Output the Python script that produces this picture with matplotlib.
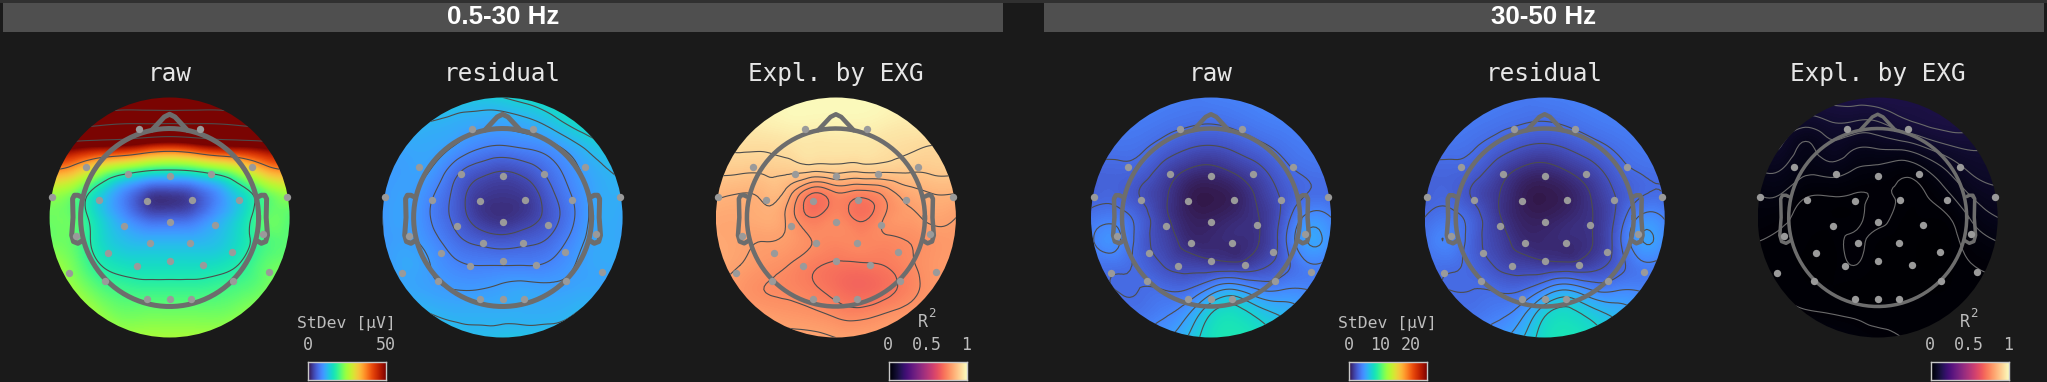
import numpy as np
import matplotlib
matplotlib.use('Agg')
from matplotlib import pyplot as plt
from matplotlib import tri as mtri
from matplotlib.patches import Circle, Rectangle

BG = '#1a1a1a'
HEAD = '#6d6d6d'
DOT = '#9a9a9a'
TXT = '#e6e6e6'
LBL = '#bdbdbd'
MONO = 'DejaVu Sans Mono'

# sensor montage, head radius = 1
sensor_x = [-.346, .346, -.936, .926, -.463, 0, .468, -1.32, 1.32, -.79, -.253, .253, .784,
            -.507, 0, .512, -1.052, 1.052, -.224, .234, -.692, .697, -.37, 0, .38,
            -1.126, 1.121, -.721, .716, -.253, 0, .239]
sensor_y = [.996, .996, .562, .569, .487, .464, .494, .232, .225, .195, .191, .195, .202,
            -.09, -.056, -.082, -.206, -.187, -.292, -.288, -.397, -.39, -.547, -.494, -.539,
            -.622, -.614, -.719, -.719, -.918, -.918, -.918]

# field, rows top to bottom, on an 11x11 lattice
grid_nodes = [-1.35, -1.08, -.81, -.54, -.27, 0, .27, .54, .81, 1.08, 1.35]

low_raw = [
    [120, 120, 118, 116, 115, 115, 115, 116, 118, 120, 120],
    [85, 85, 83, 80, 80, 80, 80, 80, 83, 85, 85],
    [55, 52, 50, 49, 46, 44, 46, 49, 50, 52, 55],
    [37, 34, 27, 22, 19, 18, 19, 22, 27, 34, 37],
    [25, 22, 15, 9, 4, 3, 4.5, 9, 15, 21, 25],
    [22, 21, 15, 10, 6, 5.5, 6.5, 10.5, 15, 21, 21],
    [22, 21, 16, 13, 12, 12, 12, 13, 16, 20, 21],
    [25, 22, 18, 16, 15.5, 15.5, 15.5, 16, 18, 21, 22],
    [27, 24, 21, 19.5, 19, 19, 19, 19.5, 20.5, 22, 25],
    [30, 27, 24, 22, 22, 22, 22, 22, 23, 25, 27],
    [31, 29, 27, 25, 25, 25, 25, 25, 26, 27, 30]]

low_resid = [
    [15, 15, 15, 14, 13.5, 14, 15, 16, 16.5, 16.5, 16.5],
    [12.5, 12.5, 12, 11.5, 11, 10.8, 11.5, 13, 15, 16, 16.5],
    [11, 11, 11, 10, 8.5, 8, 8.5, 9.5, 11.5, 13.5, 15],
    [10, 10.5, 10, 7, 5, 4.2, 5, 7, 9.5, 11.5, 12.5],
    [10, 10.5, 8.5, 5.5, 3, 2.5, 3, 5.5, 8.5, 11, 11.5],
    [10, 10.5, 8, 5.5, 3, 2.2, 3, 5, 8, 11, 11],
    [10, 10.5, 9, 6.8, 5.5, 5, 5.5, 6.5, 9, 11, 11],
    [10, 11, 10, 8.5, 8, 8, 8, 8.5, 10, 11, 11],
    [11, 11, 10.5, 10, 10, 10.5, 10.8, 10.5, 10.8, 11, 11],
    [12.5, 12.5, 12, 11.5, 11.5, 11.5, 11.5, 11.5, 12, 12.5, 13],
    [13.5, 13.5, 13.5, 13, 12.5, 13, 13, 13, 13, 13.5, 13.5]]

low_r2 = [
    [.98, .98, .98, .985, .99, .99, .99, .985, .98, .98, .98],
    [.96, .96, .97, .98, .98, .98, .98, .97, .96, .96, .95],
    [.92, .93, .93, .94, .95, .95, .95, .94, .93, .92, .92],
    [.89, .89, .89, .895, .895, .90, .895, .895, .89, .89, .89],
    [.85, .84, .85, .82, .72, .755, .74, .77, .82, .84, .84],
    [.82, .82, .83, .79, .72, .75, .71, .76, .79, .81, .80],
    [.82, .81, .80, .79, .76, .75, .75, .75, .76, .78, .79],
    [.82, .80, .78, .76, .73, .71, .71, .72, .75, .78, .79],
    [.80, .78, .76, .75, .73, .70, .68, .70, .74, .78, .79],
    [.80, .80, .79, .78, .77, .75, .74, .76, .78, .80, .80],
    [.82, .82, .82, .81, .81, .80, .80, .80, .81, .82, .82]]

high_raw = [
    [4, 4, 4, 4, 3.8, 3.9, 4, 4.2, 4.5, 4.2, 4],
    [3.8, 3.8, 3.8, 3.6, 3.4, 3.3, 3.5, 3.8, 4, 4, 3.8],
    [3.5, 3.5, 3.4, 2.9, 2.4, 2.2, 2.5, 3, 3.5, 3.8, 3.8],
    [3, 3, 2.8, 1.9, 1.2, 1, 1.4, 2, 2.9, 3.4, 3.5],
    [2.8, 2.9, 2.2, 1.4, .5, .3, .6, 1.4, 2.4, 3.2, 3.2],
    [3.6, 3.8, 2.8, 1.5, .6, .5, .8, 1.2, 2.5, 4.5, 4.2],
    [4, 4.5, 2.8, 1.8, .9, .8, .9, 1.2, 2.8, 5.2, 4.6],
    [3.5, 3.5, 3, 2.2, 1.8, 1.6, 1.5, 1.9, 2.8, 4, 3.8],
    [3.5, 3.2, 3.2, 3.2, 3.2, 4.5, 5.2, 4.2, 4.2, 4.2, 3.8],
    [3.8, 3.5, 3.5, 4, 5, 7.2, 7.8, 6.8, 6, 5.5, 5],
    [4.2, 4.2, 4.5, 5, 6.2, 8, 8.5, 8, 7, 6.2, 5.5]]

high_resid = [
    [4, 4, 4, 3.9, 3.7, 3.8, 3.9, 4.1, 4.2, 4.1, 4],
    [3.8, 3.8, 3.7, 3.5, 3.3, 3.2, 3.4, 3.7, 3.9, 3.9, 3.8],
    [3.5, 3.5, 3.3, 2.8, 2.3, 2.1, 2.4, 2.9, 3.4, 3.7, 3.7],
    [3, 3, 2.7, 1.8, 1.1, .9, 1.3, 1.9, 2.8, 3.3, 3.4],
    [2.8, 2.9, 2.1, 1.3, .5, .3, .6, 1.3, 2.3, 3.1, 3.2],
    [3.2, 3.6, 2.7, 1.4, .6, .5, .8, 1.2, 2.4, 4.4, 4.1],
    [3.6, 4.1, 2.7, 1.7, .9, .8, .9, 1.2, 2.7, 5.1, 4.5],
    [3.4, 3.4, 2.9, 2.1, 1.7, 1.5, 1.5, 1.8, 2.7, 3.9, 3.7],
    [3.4, 3.2, 3.2, 3.1, 3.1, 4.3, 5.1, 4.1, 4.1, 4.1, 3.7],
    [3.7, 3.5, 3.5, 3.9, 4.8, 7, 7.6, 6.7, 5.9, 5.4, 4.9],
    [4.1, 4.1, 4.4, 4.9, 6, 7.8, 8.3, 7.8, 6.9, 6.1, 5.4]]

high_r2 = [
    [.10, .11, .115, .12, .12, .125, .125, .12, .12, .11, .10],
    [.08, .09, .08, .09, .09, .09, .105, .115, .12, .115, .10],
    [.07, .07, .047, .065, .055, .055, .06, .075, .09, .095, .09],
    [.05, .05, .034, .04, .03, .025, .018, .03, .055, .075, .08],
    [.03, .03, .015, .014, .012, .013, .01, .012, .03, .055, .065],
    [.02, .015, .009, .008, .009, .015, .008, .008, .012, .035, .05],
    [.012, .01, .008, .007, .014, .008, .006, .003, .007, .02, .03],
    [.01, .008, .007, .006, .012, .006, .006, .003, .007, .012, .015],
    [.012, .01, .008, .008, .006, .007, .007, .007, .008, .01, .012],
    [.02, .018, .014, .012, .01, .009, .009, .009, .01, .012, .015],
    [.04, .04, .035, .03, .02, .015, .012, .012, .012, .015, .02]]

titles = ['raw', 'residual', 'Expl. by EXG', 'raw', 'residual', 'Expl. by EXG']
fields = [low_raw, low_resid, low_r2, high_raw, high_resid, high_r2]
cmaps = ['turbo', 'turbo', 'magma', 'turbo', 'turbo', 'magma']
vmaxes = [50, 50, 1, 25, 25, 1]
contour_levels = [
    [17.5, 36.5, 56.5, 76.5, 96.5, 116.5],
    [4, 6, 8, 10, 12, 14],
    [.72, .76, .80, .84, .88, .92],
    [1.2, 2.2, 3.2, 4.2, 5.2, 6.2, 7.2],
    [1.2, 2.2, 3.2, 4.2, 5.2, 6.2, 7.2],
    [.012, .03, .05, .07, .09, .11, .13]]
contour_colors = ['#4d4d4d', '#4d4d4d', '#4d4d4d', '#4d4d4d', '#4d4d4d', '#6a6a6a']
centers = [169.6, 502.6, 835.9, 1211, 1544.7, 1877.7]
head_px = [5, 5, 4.5, 4.5, 4.5, 3.5]

band_names = ['0.5-30 Hz', '30-50 Hz']

PX = 89.0  # pixels per head radius
W, H = 2047, 382

fig = plt.figure(figsize=(W / 100, H / 100), dpi=100, facecolor=BG)
base = fig.add_axes([0, 0, 1, 1])
base.set_xlim(0, W)
base.set_ylim(H, 0)
base.axis('off')

base.add_patch(Rectangle((0, 0), W, 2.5, color='#303030', lw=0))
for x0, x1, name in [(2.6, 1003, band_names[0]), (1044.3, 2043.6, band_names[1])]:
    base.add_patch(Rectangle((x0, 2.7), x1 - x0, 29, color='#4f4f4f', lw=0))
    base.text((x0 + x1) / 2, 24.5, name, color='white', family='Liberation Sans',
              weight='bold', size=18.6, ha='center', va='baseline')

nodes = np.array(grid_nodes)
gx, gy = np.meshgrid(nodes, nodes[::-1])
triang = mtri.Triangulation(gx.ravel(), gy.ravel())
refiner = mtri.UniformTriRefiner(triang)
pix = np.linspace(-1.35, 1.35, 64)
px, py = np.meshgrid(pix, pix)

nose = ([-.2, -.06, 0, .06, .2], [.98, 1.13, 1.16, 1.13, .98])
ear_x = [1.0, 1.03, 1.07, 1.09, 1.085, 1.1, 1.08, 1.03, .98]
ear_y = [.235, .25, .25, .21, 0, -.2, -.27, -.29, -.26]

for i in range(6):
    cx = centers[i]
    half = 1.42 * PX
    ax = fig.add_axes([(cx - half) / W, 1 - (217.5 + half) / H, 2 * half / W, 2 * half / H])
    ax.set_xlim(-1.42, 1.42)
    ax.set_ylim(-1.42, 1.42)
    ax.axis('off')
    ax.patch.set_alpha(0)

    z = np.array(fields[i], dtype=float).ravel()
    interp = mtri.CubicTriInterpolator(triang, z, kind='min_E')
    im = ax.imshow(interp(px, py), origin='lower', extent=[-1.35, 1.35, -1.35, 1.35],
                   cmap=cmaps[i], vmin=0, vmax=vmaxes[i], interpolation='bilinear')
    clip = Circle((0, 0), 120 / PX, transform=ax.transData)
    im.set_clip_path(clip)

    tri_f, z_f = refiner.refine_field(z, subdiv=3)
    cs = ax.tricontour(tri_f, z_f, levels=contour_levels[i], colors=contour_colors[i], linewidths=0.8)
    cs.set_clip_path(clip)

    lw = head_px[i] * 0.72
    th = np.linspace(0, 2 * np.pi, 200)
    ax.plot(np.cos(th), np.sin(th), color=HEAD, lw=lw)
    ax.plot(nose[0], nose[1], color=HEAD, lw=lw, solid_joinstyle='round', solid_capstyle='round')
    ax.plot(ear_x, ear_y, color=HEAD, lw=lw, solid_joinstyle='round', solid_capstyle='round')
    ax.plot(-np.array(ear_x), ear_y, color=HEAD, lw=lw, solid_joinstyle='round', solid_capstyle='round')
    ax.scatter(sensor_x, sensor_y, s=28, color=DOT, lw=0, zorder=5, clip_on=False)

    base.text(cx, 81, titles[i], color=TXT, family=MONO, size=17.6, ha='center', va='baseline')


def colorbar(x0, x1, cmap, ticks):
    cax = fig.add_axes([x0 / W, 1 - 379.5 / H, (x1 - x0) / W, 17.2 / H])
    cax.imshow(np.linspace(0, 1, 256)[None, :], aspect='auto', cmap=cmap)
    cax.set_xticks([])
    cax.set_yticks([])
    for s in cax.spines.values():
        s.set_color('#c8c8c8')
        s.set_linewidth(1)
    for pos, lab in ticks:
        base.text(pos, 350, lab, color=LBL, family=MONO, size=12, ha='center', va='baseline')


colorbar(307.5, 385.5, 'turbo', [(308, '0'), (386, '50')])
colorbar(888.6, 966.6, 'magma', [(887.7, '0'), (926.7, '0.5'), (965.8, '1')])
colorbar(1349.3, 1426.7, 'turbo', [(1349, '0'), (1380, '10'), (1410.7, '20')])
colorbar(1930.5, 2008.5, 'magma', [(1929.7, '0'), (1969, '0.5'), (2008, '1')])

for x in (346.5, 1387.3):
    base.text(x, 328, 'StDev [μV]', color=LBL, family=MONO, size=11.8, ha='center', va='baseline')
for x in (922.8, 1964.7):
    base.text(x, 327, 'R', color=LBL, family=MONO, size=12, ha='center', va='baseline')
    base.text(x + 9, 317, '2', color=LBL, family=MONO, size=9, ha='center', va='baseline')

fig.savefig('out.png', dpi=100, facecolor=BG)
